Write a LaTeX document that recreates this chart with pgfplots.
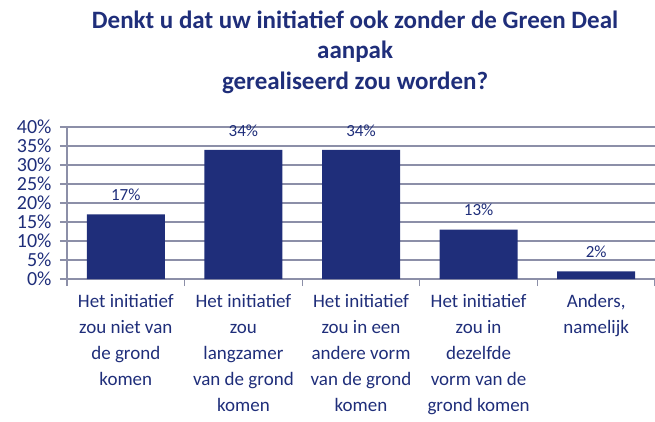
\documentclass[border=0pt]{standalone}
\usepackage{fontspec}
\setmainfont{Carlito}
\usepackage{pgfplots}
\pgfplotsset{compat=1.18}
\definecolor{navy}{RGB}{31,46,122}
\definecolor{gridc}{RGB}{140,143,168}
\begin{document}
\begin{tikzpicture}
\useasboundingbox (-67pt,-142pt) rectangle (588pt,279pt);
\begin{axis}[
  at={(0,0)}, anchor=south west,
  scale only axis, width=588pt, height=152pt,
  xmin=-0.5, xmax=4.5, ymin=0, ymax=40,
  ybar, bar width=78pt,
  axis lines*=left,
  axis line style={gridc, line width=1.2pt, -},
  ymajorgrids, grid style={gridc, line width=1.2pt},
  tick align=outside, major tick length=7pt, minor tick length=7pt,
  tick style={gridc, line width=1.2pt},
  major x tick style={draw=none},
  ytick={0,5,...,40},
  yticklabels={0\%,5\%,10\%,15\%,20\%,25\%,30\%,35\%,40\%},
  yticklabel style={font=\fontsize{20}{20}\selectfont, text=navy, xshift=-5pt},
  xtick={0,1,2,3,4},
  minor xtick={-0.5,0.5,1.5,2.5,3.5,4.5},
  xticklabels={{Het initiatief\\zou niet van\\de grond\\komen},
    {Het initiatief\\zou\\langzamer\\van de grond\\komen},
    {Het initiatief\\zou in een\\andere vorm\\van de grond\\komen},
    {Het initiatief\\zou in\\dezelfde\\vorm van de\\grond komen},
    {Anders,\\namelijk}},
  xticklabel style={font=\fontsize{19}{26}\selectfont, text=navy, align=center, anchor=north, yshift=-5pt},
  /pgf/number format/assume math mode=true,
  nodes near coords={\pgfmathprintnumber{\pgfplotspointmeta}\%},
  nodes near coords style={font=\fontsize{17}{20}\selectfont, text=navy, yshift=10pt},
  title={Denkt u dat uw initiatief ook zonder de Green Deal\\aanpak\\gerealiseerd zou worden?},
  title style={font=\bfseries\fontsize{25}{30.5}\selectfont, text=navy, align=center, at={(0.49,1)}, anchor=south, yshift=24pt},
]
\addplot[fill=navy, draw=none] coordinates {(0,17) (1,34) (2,34) (3,13) (4,2)};
\end{axis}
\end{tikzpicture}
\end{document}
